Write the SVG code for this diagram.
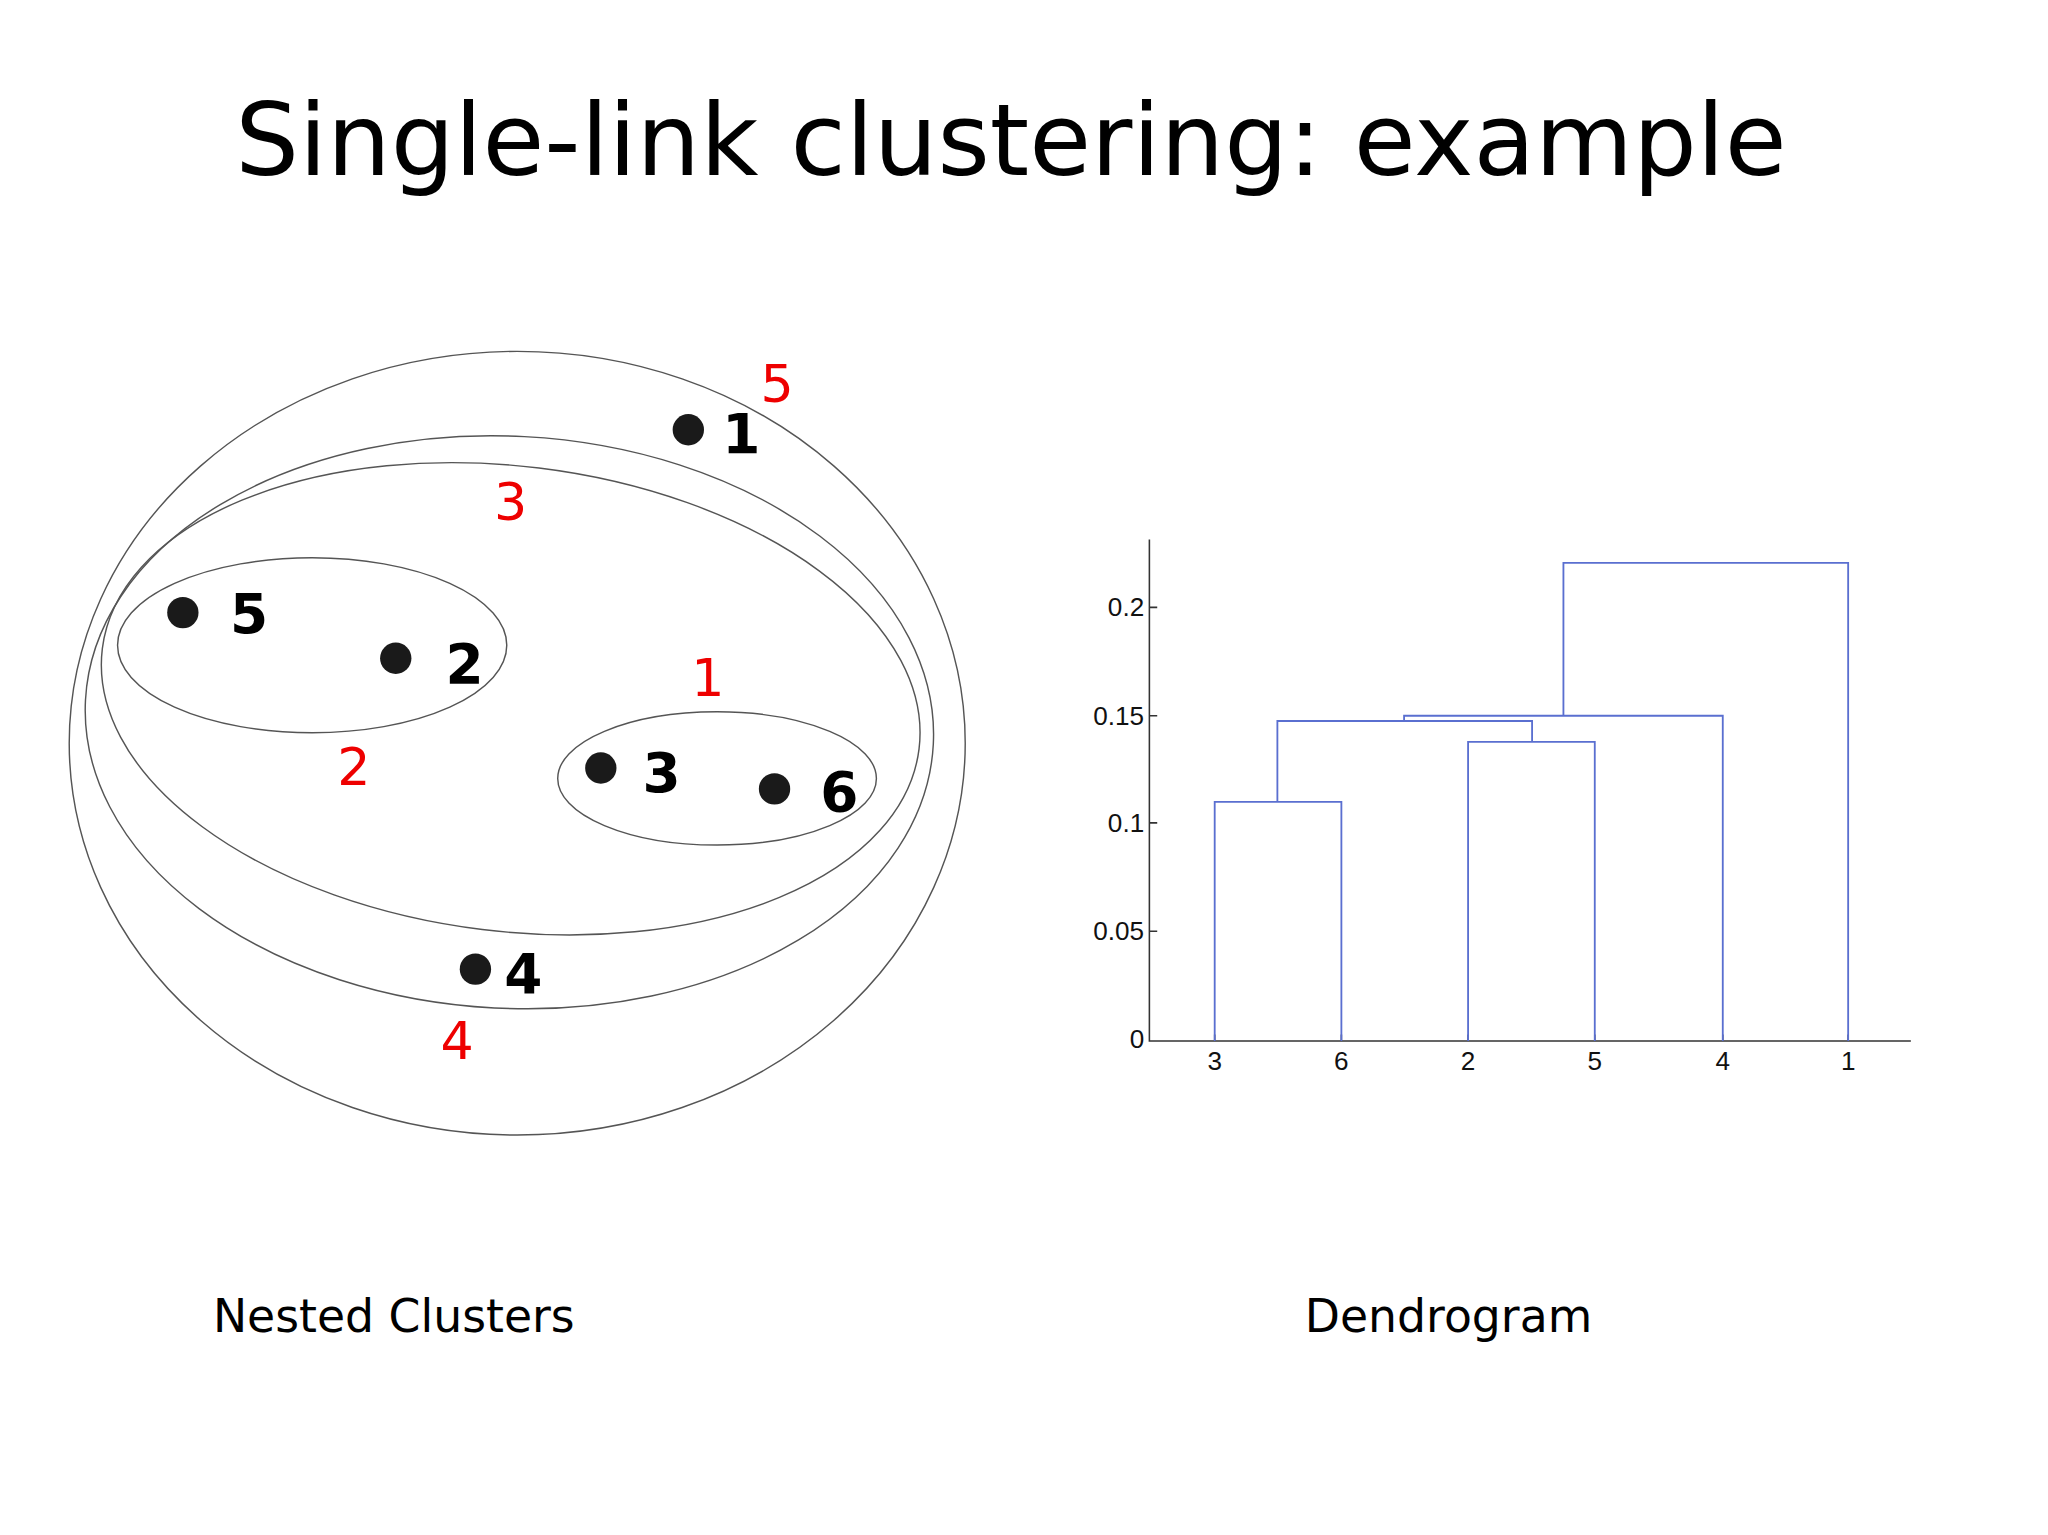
<svg xmlns="http://www.w3.org/2000/svg" width="2048" height="1535" viewBox="0 0 2048 1535">
<style>
.e{fill:none;stroke:#555;stroke-width:1.1}
.pt{fill:#1a1a1a}
.bl{font-family:"DejaVu Sans",sans-serif;font-weight:bold;font-size:42px;fill:#000}
.rd{font-family:"DejaVu Sans",sans-serif;font-size:40px;fill:#e00}
.d{fill:none;stroke:#5a6fd0;stroke-width:1.4}
.ax{fill:none;stroke:#333;stroke-width:1.2}
.tk{font-family:"Liberation Sans",sans-serif;font-size:20px;fill:#111}
.cap{font-family:"DejaVu Sans",sans-serif;font-size:35px;fill:#000}
</style>
<rect width="2048" height="1535" fill="#fff"/>
<g transform="scale(1.30612)">
<text x="774" y="134" text-anchor="middle" font-family="DejaVu Sans,sans-serif" font-size="77">Single-link clustering: example</text>
<g id="clusters">
<ellipse class="e" cx="396" cy="569" rx="343" ry="300"/>
<ellipse class="e" cx="390" cy="553" rx="325" ry="219" transform="rotate(3 390 553)"/>
<ellipse class="e" cx="391" cy="535" rx="315" ry="178" transform="rotate(7 391 535)"/>
<ellipse class="e" cx="239" cy="494" rx="149" ry="67"/>
<ellipse class="e" cx="549" cy="596" rx="122" ry="51"/>
</g>
<g id="p1"><circle class="pt" cx="527" cy="329" r="12"/><text class="bl" x="553" y="347">1</text></g>
<g id="p5"><circle class="pt" cx="140" cy="469" r="12"/><text class="bl" x="176" y="485">5</text></g>
<g id="p2"><circle class="pt" cx="303" cy="504" r="12"/><text class="bl" x="341" y="523">2</text></g>
<g id="p3"><circle class="pt" cx="460" cy="588" r="12"/><text class="bl" x="492" y="606">3</text></g>
<g id="p6"><circle class="pt" cx="593" cy="604" r="12"/><text class="bl" x="628" y="621">6</text></g>
<g id="p4"><circle class="pt" cx="364" cy="742" r="12"/><text class="bl" x="386" y="760">4</text></g>
<g id="redlabels">
<text class="rd" x="595" y="308" text-anchor="middle">5</text>
<text class="rd" x="391" y="398" text-anchor="middle">3</text>
<text class="rd" x="542" y="533" text-anchor="middle">1</text>
<text class="rd" x="271" y="601" text-anchor="middle">2</text>
<text class="rd" x="350" y="811" text-anchor="middle">4</text>
</g>
<g id="dendrogram">
<path class="ax" d="M880 413V797H1463M880 465h6M880 548h6M880 630h6M880 713h6M930 797v-5M1027 797v-5M1124 797v-5M1221 797v-5M1319 797v-5M1415 797v-5"/>
<path class="d" d="M930 797V614H1027V797M1124 797V568H1221V797M978 614V552H1173V568M1075 552V548H1319V797M1197 548V431H1415V797"/>
<g class="tk" text-anchor="end">
<text x="876" y="472">0.2</text><text x="876" y="555">0.15</text><text x="876" y="637">0.1</text><text x="876" y="720">0.05</text><text x="876" y="802">0</text>
</g>
<g class="tk" text-anchor="middle">
<text x="930" y="819">3</text><text x="1027" y="819">6</text><text x="1124" y="819">2</text><text x="1221" y="819">5</text><text x="1319" y="819">4</text><text x="1415" y="819">1</text>
</g>
</g>
<text class="cap" x="163" y="1020">Nested Clusters</text>
<text class="cap" x="999" y="1020">Dendrogram</text>
</g>
</svg>
